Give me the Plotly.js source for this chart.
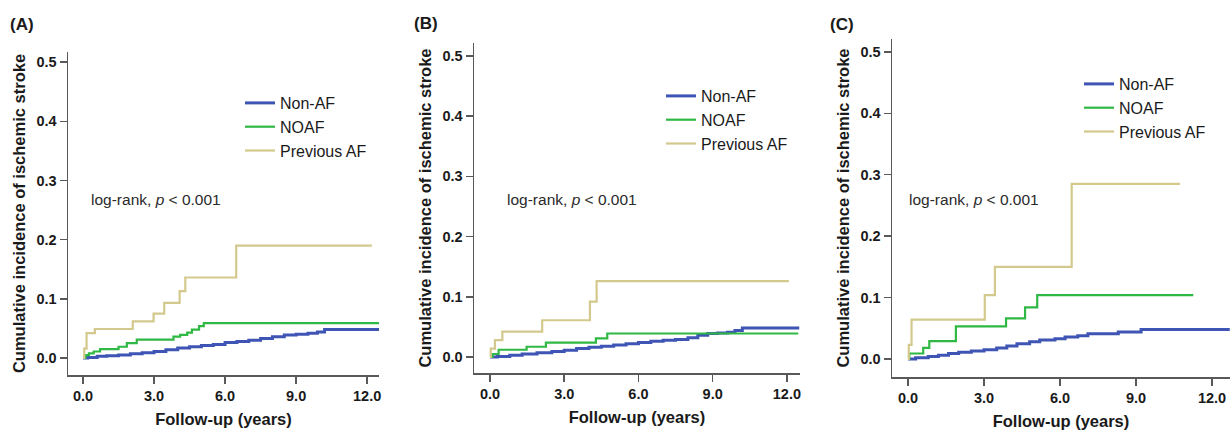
<!DOCTYPE html>
<html>
<head>
<meta charset="utf-8">
<script src="https://cdn.plot.ly/plotly-3.0.1.min.js"></script>
<style>
  html, body { margin: 0; padding: 0; background: #fff; }
  #chart { width: 1230px; height: 430px; }
</style>
</head>
<body>
<div id="chart"></div>
<script>
// ---------- Data ----------
const seriesNames = ["Non-AF", "NOAF", "Previous AF"];
const panelLabels = ["(A)", "(B)", "(C)"];
const xTickVals = [0, 3, 6, 9, 12];
const yTickVals = [0, 0.1, 0.2, 0.3, 0.4, 0.5];
const pText = "log-rank, <i>p</i> &lt; 0.001";

// Panel A
const tA_non  = [0, 0.2, 0.6, 1.0, 1.5, 2.0, 2.5, 3.0, 3.5, 4.0, 4.5, 5.0, 5.5, 6.0, 6.5, 7.0, 7.5, 8.0, 8.5, 9.0, 9.5, 9.9, 10.2, 12.5];
const yA_non  = [0, 0.001, 0.003, 0.004, 0.005, 0.007, 0.009, 0.011, 0.014, 0.017, 0.019, 0.021, 0.023, 0.026, 0.028, 0.030, 0.033, 0.036, 0.039, 0.040, 0.042, 0.044, 0.048, 0.048];
const tA_noaf = [0, 0.1, 0.25, 0.45, 0.72, 1.5, 1.85, 2.27, 3.82, 4.1, 4.4, 4.6, 4.9, 5.1, 12.5];
const yA_noaf = [0, 0.005, 0.008, 0.011, 0.015, 0.019, 0.025, 0.031, 0.036, 0.039, 0.043, 0.048, 0.054, 0.059, 0.059];
const tA_prev = [0, 0.05, 0.15, 0.5, 2.1, 2.98, 3.43, 4.08, 4.32, 6.47, 12.2];
const yA_prev = [0, 0.016, 0.042, 0.049, 0.062, 0.075, 0.093, 0.113, 0.136, 0.190, 0.190];

// Panel B
const tB_non  = [0, 0.3, 0.8, 1.3, 1.9, 2.5, 3.0, 3.5, 4.0, 4.5, 5.0, 5.5, 6.0, 6.5, 7.0, 7.5, 8.0, 8.4, 8.8, 9.2, 9.6, 9.9, 10.2, 12.5];
const yB_non  = [0, 0.001, 0.003, 0.005, 0.007, 0.009, 0.011, 0.014, 0.016, 0.018, 0.020, 0.022, 0.024, 0.026, 0.028, 0.029, 0.032, 0.036, 0.039, 0.040, 0.041, 0.044, 0.048, 0.048];
const tB_noaf = [0, 0.1, 0.35, 1.48, 2.26, 4.28, 4.74, 12.46];
const yB_noaf = [0, 0.005, 0.012, 0.017, 0.024, 0.031, 0.039, 0.039];
const tB_prev = [0, 0.03, 0.2, 0.5, 2.11, 4.04, 4.31, 12.08];
const yB_prev = [0, 0.014, 0.028, 0.042, 0.061, 0.092, 0.126, 0.126];

// Panel C
const tC_non  = [0, 0.3, 0.8, 1.2, 1.6, 2.0, 2.5, 3.0, 3.5, 3.9, 4.3, 4.8, 5.2, 5.8, 6.2, 6.7, 7.1, 8.3, 9.2, 12.7];
const yC_non  = [0, 0.002, 0.004, 0.006, 0.009, 0.011, 0.013, 0.015, 0.018, 0.021, 0.025, 0.028, 0.031, 0.033, 0.036, 0.038, 0.041, 0.044, 0.048, 0.048];
const tC_noaf = [0, 0.05, 0.6, 0.84, 1.89, 3.87, 4.62, 5.1, 11.26];
const yC_noaf = [0, 0.009, 0.018, 0.029, 0.053, 0.066, 0.084, 0.104, 0.104];
const tC_prev = [0, 0.03, 0.14, 3.03, 3.43, 6.46, 10.74];
const yC_prev = [0, 0.023, 0.064, 0.104, 0.150, 0.285, 0.285];

const colors = ["#3f55b5", "#2fb843", "#d4c98c"];
const widths = [3, 2.2, 2.2];

// ---------- Layout geometry (pixels) ----------
const W = 1230, H = 430;
const px = v => v / W;
const py = v => 1 - v / H;

const panels = [
  { t: [tA_non, tA_noaf, tA_prev], y: [yA_non, yA_noaf, yA_prev],
    xd: [68, 379], yd: [52, 375], xr: [-0.634, 12.5], yr: [-0.0287, 0.517],
    lab: [8, 25], ann: [89, 200], leg: [240, 86] },
  { t: [tB_non, tB_noaf, tB_prev], y: [yB_non, yB_noaf, yB_prev],
    xd: [474, 800], yd: [43, 373], xr: [-0.646, 12.53], yr: [-0.0266, 0.5216],
    lab: [412, 23], ann: [505, 200], leg: [661, 79] },
  { t: [tC_non, tC_noaf, tC_prev], y: [yC_non, yC_noaf, yC_prev],
    xd: [892, 1230], yd: [39, 377], xr: [-0.632, 12.71], yr: [-0.0293, 0.521],
    lab: [828, 25], ann: [907, 200], leg: [1079, 67] }
];

const FONT = "Liberation Sans, Arial, sans-serif";
const traces = [];
const layout = {
  width: W, height: H,
  margin: { l: 0, r: 0, t: 0, b: 0 },
  paper_bgcolor: "#ffffff", plot_bgcolor: "#ffffff",
  font: { family: FONT, color: "#1a1a1a" },
  annotations: [], showlegend: true
};

panels.forEach((p, i) => {
  const n = i + 1;
  const xa = n === 1 ? "x" : "x" + n;
  const ya = n === 1 ? "y" : "y" + n;
  const lg = n === 1 ? "legend" : "legend" + n;
  for (let s = 0; s < 3; s++) {
    traces.push({
      type: "scatter", mode: "lines",
      x: p.t[s], y: p.y[s], xaxis: xa, yaxis: ya,
      name: seriesNames[s], legend: lg,
      line: { shape: "hv", color: colors[s], width: widths[s] },
      hoverinfo: "skip"
    });
  }
  const axCommon = {
    showgrid: false, zeroline: false, showline: true,
    linecolor: "#595959", linewidth: 1.5,
    ticks: "outside", ticklen: 7, tickwidth: 1.5, tickcolor: "#595959",
    tickfont: { family: FONT, size: 14.5, color: "#1a1a1a", weight: "bold" },
    tickformat: ".1f", fixedrange: true
  };
  layout["xaxis" + (n === 1 ? "" : n)] = Object.assign({}, axCommon, {
    domain: [px(p.xd[0]), px(p.xd[1])], range: p.xr, anchor: ya,
    tickmode: "array", tickvals: xTickVals,
    title: { text: "Follow-up (years)", font: { family: FONT, size: 16.5, weight: "bold", color: "#1a1a1a" }, standoff: 10 }
  });
  layout["yaxis" + (n === 1 ? "" : n)] = Object.assign({}, axCommon, {
    domain: [py(p.yd[1]), py(p.yd[0])], range: p.yr, anchor: xa,
    tickmode: "array", tickvals: yTickVals,
    title: { text: "Cumulative incidence of ischemic stroke", font: { family: FONT, size: 16.5, weight: "bold", color: "#1a1a1a" }, standoff: 6 }
  });
  layout[lg] = {
    x: px(p.leg[0]), y: py(p.leg[1]), xanchor: "left", yanchor: "top",
    bgcolor: "rgba(0,0,0,0)", borderwidth: 0,
    font: { family: FONT, size: 16, color: "#1a1a1a" },
    itemwidth: 30, tracegroupgap: 0
  };
  layout.annotations.push({
    xref: "paper", yref: "paper", x: px(p.lab[0]), y: py(p.lab[1]),
    xanchor: "left", yanchor: "middle", showarrow: false,
    text: "<b>" + panelLabels[i] + "</b>",
    font: { family: FONT, size: 17, color: "#1a1a1a" }
  });
  layout.annotations.push({
    xref: "paper", yref: "paper", x: px(p.ann[0]), y: py(p.ann[1]),
    xanchor: "left", yanchor: "middle", showarrow: false,
    text: pText, font: { family: FONT, size: 15.5, color: "#2a2a2a" }
  });
});

Plotly.newPlot("chart", traces, layout, { displayModeBar: false, staticPlot: true });
</script>
</body>
</html>
